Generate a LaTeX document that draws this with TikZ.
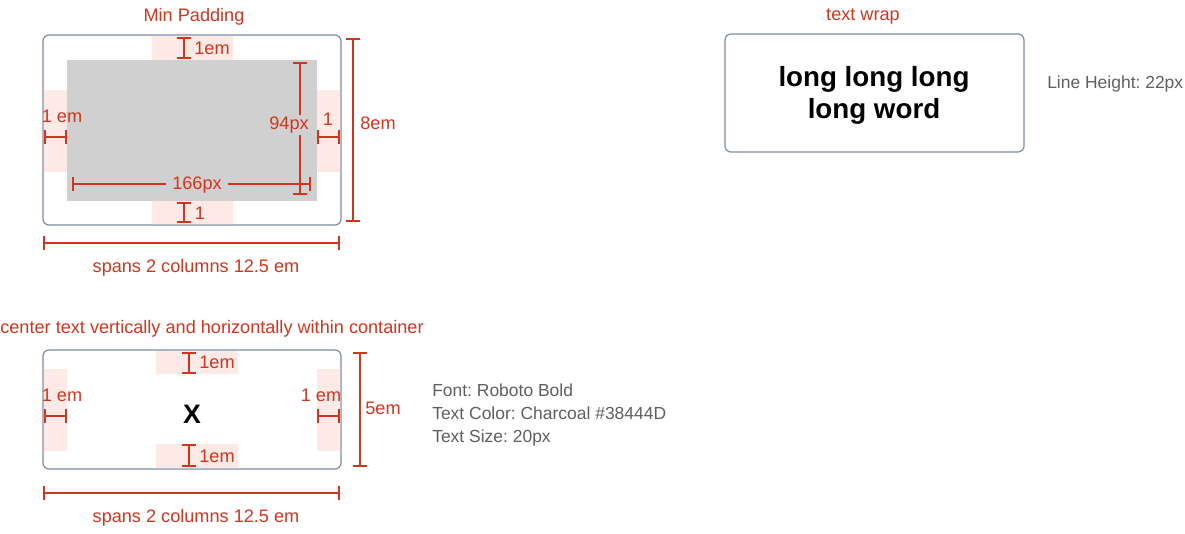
\documentclass[tikz,border=0pt]{standalone}
\usepackage{fontspec}
\setmainfont{Liberation Sans}
\usetikzlibrary{arrows.meta}
\definecolor{specred}{HTML}{D0351F}
\definecolor{padpink}{HTML}{FDE9E5}
\definecolor{cardedge}{HTML}{7E8EA0}
\definecolor{blockgray}{HTML}{D0D0D0}
\definecolor{notegray}{HTML}{5F5F5F}
\frenchspacing

\begin{document}
\begin{tikzpicture}[x=0.75pt,y=-0.75pt,
  every node/.style={font=\fontsize{13.6}{15}\selectfont},
  redtxt/.style={text=specred,inner sep=1pt},
  note/.style={text=notegray,anchor=west,inner sep=0pt,align=left,font=\fontsize{13.1}{17.25}\selectfont},
  card/.style={draw=cardedge,line width=0.9pt,rounded corners=4.5pt,fill=white},
  pad/.style={fill=padpink},
  dim/.style={draw=specred,line width=1.2pt,{Bar[width=10pt]}-{Bar[width=10pt]}},
  heavy/.style={font=\fontsize{20.8}{24}\selectfont\bfseries,align=center}]
\useasboundingbox (0,0) rectangle (1185,533);

% min padding
\node[redtxt] (padtitle) at (194,17) {Min Padding};
\draw[card] (43,35) rectangle (341,225);
\fill[pad] (152,36) rectangle (233,60) (152,201) rectangle (233,224)
  (44,90) rectangle (67,172) (317,90) rectangle (340,172);
\fill[blockgray] (67,60) rectangle (317,201);
\draw[dim] (184,37) -- (184,59);
\node[redtxt] (padtop) at (212,48) {1em};
\draw[dim] (184,202) -- (184,223);
\node[redtxt] (padbot) at (200,213) {1};
\draw[dim] (44,137) -- (67,137);
\node[redtxt] (padleft) at (62,116) {1 em};
\draw[dim] (317,137) -- (340,137);
\node[redtxt] (padright) at (328,119) {1};
\draw[dim] (300,62) -- (300,195);
\node[redtxt,fill=blockgray] (blockh) at (289,125) {94px};
\draw[dim] (72,184) -- (311,184);
\node[redtxt,fill=blockgray,inner xsep=5pt] (blockw) at (197,185) {166px};
\draw[dim] (353,38) -- (353,222);
\node[redtxt] (padheight) at (378,123) {8em};
\draw[dim] (43,243) -- (340,243);
\node[redtxt] (padspan) at (196,268) {spans 2 columns 12.5 em};

% centered text
\node[redtxt] (centertitle) at (212,329) {center text vertically and horizontally within container};
\draw[card] (43,350) rectangle (341,469);
\fill[pad] (156,351) rectangle (238,374) (156,444) rectangle (238,468)
  (44,369) rectangle (67,451) (317,369) rectangle (340,451);
\node[font=\fontsize{20}{24}\selectfont\bfseries] (xmark) at (192,414) {X};
\draw[dim] (189,352) -- (189,374);
\node[redtxt] (ctop) at (217,362) {1em};
\draw[dim] (189,444) -- (189,467);
\node[redtxt] (cbot) at (217,456) {1em};
\draw[dim] (44,416) -- (67,416);
\node[redtxt] (cleft) at (62,395) {1 em};
\draw[dim] (317,416) -- (340,416);
\node[redtxt] (cright) at (321,395) {1 em};
\draw[dim] (360,352) -- (360,467);
\node[redtxt] (cheight) at (383,408) {5em};
\draw[dim] (43,493) -- (340,493);
\node[redtxt] (cspan) at (196,518) {spans 2 columns 12.5 em};
\node[note] (fontnote) at (432,415) {Font: Roboto Bold\\Text Color: Charcoal \#38444D\\Text Size: 20px};

% text wrap
\node[redtxt] (wraptitle) at (863,17) {text wrap};
\draw[card] (725,34) rectangle (1024,152);
\node[heavy] (wraptext) at (874,95) {long long long\\long word};
\node[note] (lineheight) at (1047,84) {Line Height: 22px};
\end{tikzpicture}
\end{document}
